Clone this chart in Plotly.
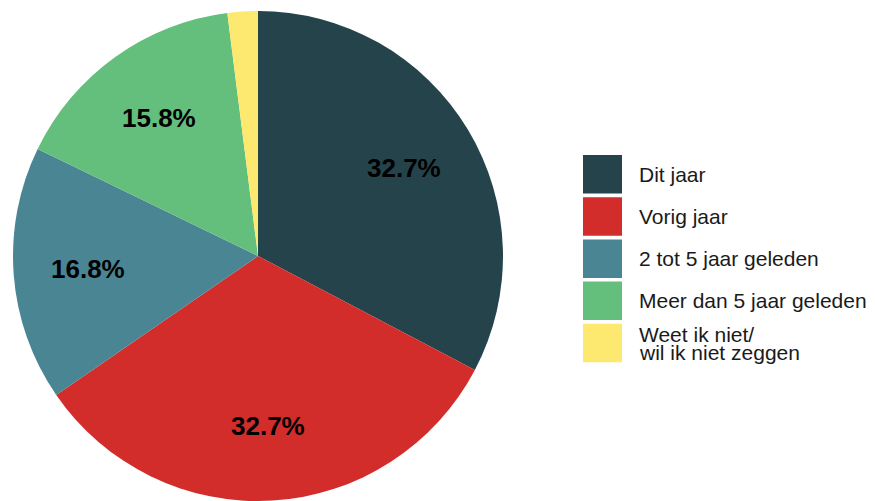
import math
import plotly.graph_objects as go

# ---- data ----
categories = ["Dit jaar", "Vorig jaar", "2 tot 5 jaar geleden",
              "Meer dan 5 jaar geleden", "Weet ik niet/\nwil ik niet zeggen"]
values = [32.7, 32.7, 16.8, 15.8, 2.0]
slice_labels = ["32.7%", "32.7%", "16.8%", "15.8%", ""]
colors = ["#25434B", "#D22C2B", "#4A8594", "#64BE7C", "#FDE870"]

W, H = 875, 501
MT, MB, ML, MR = 11, 0, 0, 0
ph = H - MT - MB
CX = 258  # pie centre, px
R = ph / 2
FONT = "Liberation Sans, Arial, sans-serif"

def px2x(px):
    return (px - ML) / (W - ML - MR)

def py2y(py):
    return 1 - (py - MT) / ph

fig = go.Figure(go.Pie(
    labels=[c.replace("\n", " ") for c in categories],
    values=values,
    sort=False,
    direction="clockwise",
    rotation=0,
    marker=dict(colors=colors, line=dict(width=0)),
    textinfo="none",
    hoverinfo="label+percent",
    domain=dict(x=[px2x(CX - R), px2x(CX + R)], y=[0, 1]),
    showlegend=False,
))

annotations = []
shapes = []

# slice percentage labels, placed at ~0.69 R along each slice's mid angle
total = sum(values)
cum = 0.0
CY = MT + ph / 2
for v, lab in zip(values, slice_labels):
    mid = (cum + v / 2) / total * 2 * math.pi
    cum += v
    if not lab:
        continue
    r = 0.694 * R
    px = CX + r * math.sin(mid)
    py = CY - r * math.cos(mid)
    annotations.append(dict(
        x=px2x(px), y=py2y(py), xref="paper", yref="paper",
        text=f"<b>{lab}</b>", showarrow=False,
        font=dict(family=FONT, size=26, color="#000000"),
        xanchor="center", yanchor="middle"))

# manual legend (large swatches)
LX0, LX1 = 583, 622
TOP = 155
STEP = 42.2
BOXH = 38.5
for i, (cat, col) in enumerate(zip(categories, colors)):
    y0 = TOP + i * STEP
    y1 = y0 + BOXH
    shapes.append(dict(type="rect", xref="paper", yref="paper",
                       x0=px2x(LX0), x1=px2x(LX1), y0=py2y(y1), y1=py2y(y0),
                       fillcolor=col, line=dict(width=0)))
    lines = cat.split("\n")
    yc = (y0 + y1) / 2
    n = len(lines)
    spacing = 18
    for j, ln in enumerate(lines):
        ly = yc + (j - (n - 1) / 2) * spacing
        annotations.append(dict(
            x=px2x(637), y=py2y(ly), xref="paper", yref="paper",
            text=ln, showarrow=False,
            font=dict(family=FONT, size=21, color="#1a1a1a"),
            xanchor="left", yanchor="middle"))

fig.update_layout(
    width=W, height=H,
    margin=dict(l=ML, r=MR, t=MT, b=MB),
    paper_bgcolor="white", plot_bgcolor="white",
    annotations=annotations, shapes=shapes,
)

fig.write_html("out.html",
               config={"displayModeBar": False},
               post_script="document.body.style.margin='0';document.body.style.overflow='hidden';")
